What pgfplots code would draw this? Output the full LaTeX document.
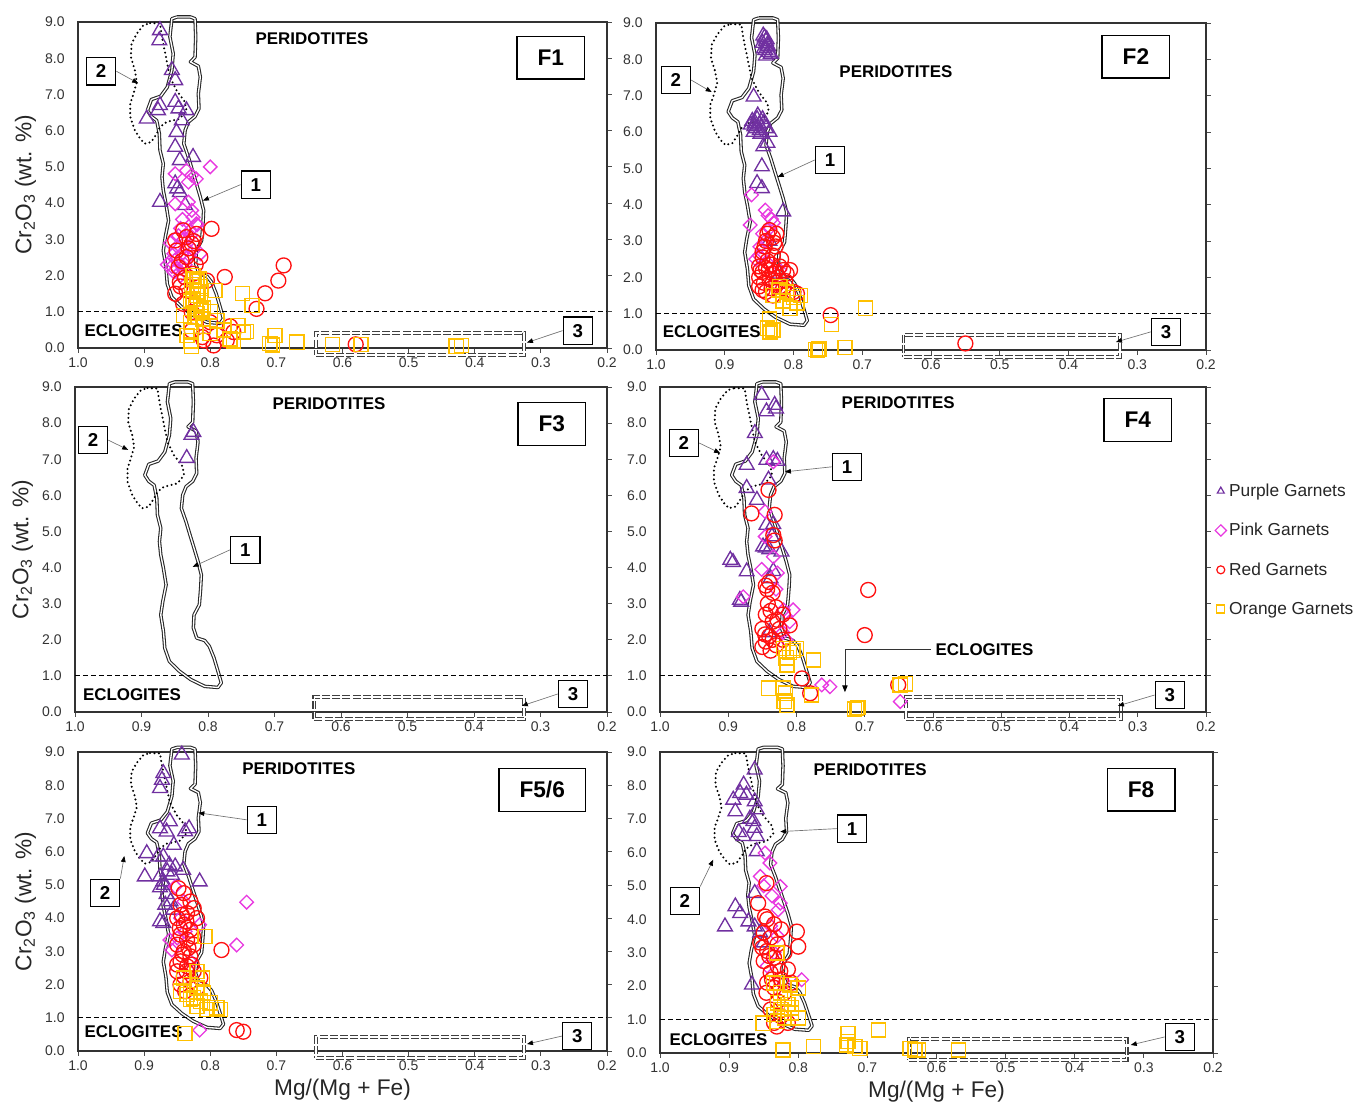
\documentclass[border=0pt]{standalone}
\usepackage{fontspec}
\setmainfont{Liberation Sans}
\usepackage{pgfplots}
\pgfplotsset{compat=1.18}
\usepackage{pgfplotstable}
\usetikzlibrary{arrows.meta}

\definecolor{cPur}{HTML}{7030A0}
\definecolor{cPink}{HTML}{E838E0}
\definecolor{cRed}{HTML}{FF1010}
\definecolor{cOra}{HTML}{FFC000}

% field outlines (same in every panel)
\pgfplotstableread[row sep=\\]{
x y\\
0.850 9.14\\ 0.858 9.09\\ 0.861 8.59\\ 0.856 8.13\\ 0.858 7.67\\ 0.865 7.20\\
0.875 6.95\\ 0.889 6.86\\ 0.895 6.56\\ 0.889 6.39\\ 0.881 6.28\\ 0.877 5.92\\
0.876 5.46\\ 0.871 5.09\\ 0.873 4.72\\ 0.871 4.35\\ 0.867 3.98\\ 0.863 3.52\\
0.868 3.06\\ 0.871 2.69\\ 0.867 2.23\\ 0.865 1.77\\ 0.858 1.40\\ 0.843 1.13\\
0.826 0.90\\ 0.805 0.71\\ 0.785 0.68\\ 0.780 0.81\\ 0.785 1.13\\ 0.791 1.50\\
0.798 1.82\\ 0.805 1.98\\ 0.817 2.05\\ 0.822 2.33\\ 0.821 2.69\\ 0.813 2.97\\
0.811 3.43\\ 0.810 3.80\\ 0.815 4.17\\ 0.821 4.54\\ 0.827 4.90\\ 0.833 5.27\\
0.840 5.64\\ 0.838 6.01\\ 0.833 6.24\\ 0.823 6.39\\ 0.817 6.61\\ 0.818 7.02\\
0.815 7.48\\ 0.818 7.78\\ 0.830 7.90\\ 0.823 8.03\\ 0.822 8.59\\ 0.823 9.09\\
0.830 9.14\\ 0.850 9.14\\
}\fieldA
\pgfplotstableread[row sep=\\]{
x y\\
0.891 8.97\\ 0.876 8.96\\ 0.873 8.59\\ 0.871 8.40\\ 0.861 7.48\\ 0.851 7.11\\
0.838 6.79\\ 0.836 6.56\\ 0.846 6.33\\ 0.866 6.24\\ 0.876 6.10\\ 0.881 5.92\\
0.889 5.69\\ 0.899 5.64\\ 0.906 5.78\\ 0.914 6.01\\ 0.921 6.38\\ 0.921 6.75\\
0.916 7.02\\ 0.911 7.34\\ 0.914 7.67\\ 0.920 8.03\\ 0.919 8.40\\ 0.911 8.68\\
0.901 8.91\\ 0.891 8.97\\
}\fieldB
\pgfplotstableread[row sep=\\]{
x y\\
0.640 -0.20\\ 0.325 -0.20\\ 0.325 0.42\\ 0.640 0.42\\ 0.640 -0.20\\
}\fieldC

\pgfplotsset{
  panel/.style={scale only axis, anchor=north west, x dir=reverse,
    xmin=0.2, xmax=1.0, ymin=0, ymax=9, clip=false,
    axis line style={draw=black!80, line width=0.9pt},
    xtick={0.2,0.3,0.4,0.5,0.6,0.7,0.8,0.9,1.0}, ytick={0,1,2,3,4,5,6,7,8,9},
    xtick pos=bottom, ytick pos=right, yticklabel pos=left,
    tick align=outside, major tick length=3.5pt,
    tick style={draw=black!70, line width=0.6pt},
    tick label style={font=\fontsize{10.5}{12}\selectfont, text=black!80},
    xticklabel style={/pgf/number format/fixed, /pgf/number format/fixed zerofill, /pgf/number format/precision=1},
    yticklabel style={/pgf/number format/fixed, /pgf/number format/fixed zerofill, /pgf/number format/precision=1, xshift=-3pt},
    /pgf/number format/assume math mode=true,
    label style={font=\fontsize{17}{19}\selectfont, text=black!85},
  },
  pur/.style={only marks, color=cPur, mark=triangle, mark size=6.4pt, line width=1pt},
  pnk/.style={only marks, color=cPink, mark=square, mark options={rotate=45}, mark size=3.6pt, line width=1pt},
  rd/.style={only marks, color=cRed, mark=o, mark size=5.6pt, line width=1pt},
  ora/.style={only marks, color=cOra, mark=square, mark size=5.3pt, line width=1.05pt},
  field1/.style={draw=black!85, double=white, double distance=1.0pt, line width=0.8pt, line join=round, mark=none, forget plot},
  field2/.style={draw=black, line width=1.7pt, dash pattern=on 0pt off 3.3pt, line cap=round, mark=none, forget plot},
  field3/.style={draw=black!75, double=white, double distance=1.3pt, line width=0.8pt, dash pattern=on 6pt off 1.6pt, mark=none, forget plot},
  eline/.style={draw=black, line width=0.8pt, dash pattern=on 3.5pt off 2.5pt, mark=none, forget plot},
}
\tikzset{
  numbox/.style={draw=black, line width=0.9pt, fill=white, font=\fontsize{14}{14}\selectfont\bfseries, minimum width=22pt, minimum height=20.5pt, inner sep=0pt},
  panbox/.style={draw=black, line width=1pt, fill=white, font=\fontsize{17}{17}\selectfont\bfseries, minimum height=32pt, inner xsep=15.5pt},
  fieldlbl/.style={font=\fontsize{12.7}{13}\selectfont\bfseries},
  arr/.style={draw=black!55, line width=0.5pt, -{Triangle[color=black, length=4.5pt, width=3.5pt]}},
}
\newcommand\fields{%
  \addplot[field1] table {\fieldA};
  \addplot[field2] table {\fieldB};
  \addplot[field3] table {\fieldC};
  \addplot[eline] coordinates {(1.0,1) (0.2,1)};
}

\begin{document}
\begin{tikzpicture}
\useasboundingbox (0,0) rectangle (1019.25pt,-828pt);

% ---------------- F1
\begin{axis}[panel, at={(58.5pt,-16.5pt)}, width=396.75pt, height=244.5pt,
  ylabel={Cr\textsubscript{2}O\textsubscript{3} (wt. \%)}]
\fields
\addplot[pur] coordinates {(0.876,8.77) (0.877,8.49) (0.858,7.67) (0.853,7.39) (0.876,6.70) (0.879,6.56)
  (0.853,6.79) (0.848,6.61) (0.836,6.56) (0.896,6.33) (0.843,6.28) (0.851,5.96) (0.853,5.55) (0.846,5.18)
  (0.826,5.27) (0.853,4.54) (0.846,4.30) (0.876,4.03) (0.838,3.94) (0.850,4.40)};
\addplot[pnk] coordinates {(0.800,5.00) (0.853,4.81) (0.836,4.90) (0.828,4.77) (0.821,4.67) (0.833,4.58)
  (0.853,3.98) (0.833,4.03) (0.826,3.61) (0.821,3.43) (0.830,3.25) (0.845,3.30) (0.840,3.00) (0.850,2.80)
  (0.855,2.60) (0.860,2.40) (0.850,2.20) (0.845,2.00) (0.835,2.50) (0.825,2.70) (0.830,3.10) (0.820,3.40)
  (0.860,2.90) (0.865,2.30) (0.855,2.10) (0.815,2.60) (0.838,2.30) (0.842,3.55) (0.828,3.80)
  (0.843,2.60) (0.852,2.45) (0.848,3.10) (0.836,2.75) (0.858,2.25) (0.840,2.15)};
\addplot[rd] coordinates {(0.798,3.29) (0.841,3.25) (0.853,2.97) (0.836,3.06) (0.821,3.15) (0.828,2.88)
  (0.851,2.69) (0.836,2.51) (0.815,2.51) (0.848,2.23) (0.846,1.82) (0.805,1.86) (0.778,1.96) (0.836,1.59)
  (0.853,1.50) (0.689,2.28) (0.697,1.86) (0.717,1.51) (0.730,1.08) (0.841,1.22) (0.828,0.99) (0.800,0.71)
  (0.790,0.35) (0.775,0.21) (0.765,0.44) (0.828,0.48) (0.810,0.21) (0.795,0.07) (0.580,0.10) (0.770,0.60)
  (0.812,0.30) (0.826,2.05) (0.822,2.30) (0.833,2.75) (0.843,2.40) (0.825,2.95) (0.838,1.95) (0.845,1.70)};
\addplot[ora] coordinates {(0.826,2.00) (0.820,1.85) (0.815,1.70) (0.825,1.60) (0.820,1.45) (0.830,1.30)
  (0.815,1.25) (0.822,1.15) (0.810,1.10) (0.820,0.95) (0.828,1.75) (0.816,1.90) (0.793,1.59) (0.751,1.50)
  (0.737,1.17) (0.758,0.62) (0.750,0.44) (0.765,0.20) (0.702,0.35) (0.710,0.12) (0.706,0.08) (0.669,0.16)
  (0.828,0.48) (0.830,0.20) (0.828,0.05) (0.835,0.35) (0.790,0.75) (0.810,0.60) (0.800,0.40) (0.770,0.25)
  (0.780,0.50) (0.745,0.45) (0.615,0.10) (0.572,0.10) (0.428,0.05) (0.420,0.07) (0.840,0.90) (0.800,1.00)
  (0.824,1.90) (0.818,1.55) (0.826,1.35) (0.814,1.05) (0.823,0.85) (0.812,0.80) (0.830,0.70)};
\node[fieldlbl] at (axis cs:0.646,8.55) {PERIDOTITES};
\node[fieldlbl, anchor=west] at (axis cs:0.997,0.48) {ECLOGITES};
\node[panbox] at (axis cs:0.285,8.02) {F1};
\node[numbox] (b2) at (axis cs:0.965,7.64) {2};
\draw[arr] (b2.east) -- (axis cs:0.909,7.31);
\node[numbox] (b1) at (axis cs:0.731,4.51) {1};
\draw[arr] (b1.west) -- (axis cs:0.811,4.07);
\node[numbox] (b3) at (axis cs:0.244,0.48) {3};
\draw[arr] (b3.west) -- (axis cs:0.321,0.15);
\end{axis}

% ---------------- F2
\begin{axis}[panel, at={(492pt,-17.25pt)}, width=412.5pt, height=245.25pt]
\fields
\addplot[pur] coordinates {(0.842,8.60) (0.840,8.50) (0.838,8.40) (0.843,8.30) (0.836,8.20) (0.840,8.10)
  (0.833,8.15) (0.845,8.45) (0.844,8.65) (0.839,8.55) (0.841,8.25) (0.837,8.35) (0.858,6.97) (0.860,6.30)
  (0.855,6.10) (0.850,6.20) (0.845,6.35) (0.858,6.00) (0.840,6.10) (0.852,6.45) (0.848,5.95) (0.862,6.20)
  (0.835,6.00) (0.856,6.25) (0.853,6.35) (0.849,6.05) (0.857,6.15) (0.843,6.25) (0.844,5.60) (0.838,5.70)
  (0.846,5.05) (0.853,4.59) (0.846,4.45) (0.815,3.81) (0.835,3.00) (0.820,2.10)};
\addplot[pnk] coordinates {(0.861,4.27) (0.841,3.85) (0.837,3.70) (0.832,3.60) (0.829,3.50) (0.863,3.44)
  (0.849,2.84) (0.841,3.00) (0.845,3.20) (0.850,2.60) (0.838,2.40) (0.820,2.20) (0.835,3.35) (0.855,2.50)};
\addplot[rd] coordinates {(0.835,3.30) (0.830,3.10) (0.840,3.00) (0.826,2.85) (0.845,2.70) (0.830,2.60)
  (0.838,2.45) (0.850,2.30) (0.820,2.30) (0.845,2.15) (0.830,2.10) (0.810,2.10) (0.850,2.00) (0.835,1.95)
  (0.825,1.85) (0.805,2.20) (0.815,1.70) (0.850,1.75) (0.840,1.60) (0.800,1.60) (0.795,1.55) (0.830,1.50)
  (0.825,3.20) (0.842,2.85) (0.818,2.50) (0.848,2.20) (0.836,2.20) (0.822,2.00) (0.812,1.90) (0.838,3.20)
  (0.828,2.95) (0.845,2.55) (0.832,2.35) (0.840,2.25) (0.826,2.15) (0.815,2.20) (0.843,1.85) (0.820,1.75)
  (0.832,1.70) (0.808,1.55) (0.845,1.65) (0.746,0.96) (0.550,0.18)};
\addplot[ora] coordinates {(0.820,1.75) (0.810,1.60) (0.830,1.50) (0.800,1.45) (0.815,1.35) (0.795,1.30)
  (0.805,1.15) (0.822,1.65) (0.790,1.50) (0.835,0.85) (0.838,0.60) (0.834,0.50) (0.830,0.55) (0.765,0.00)
  (0.768,0.02) (0.763,0.03) (0.725,0.07) (0.745,0.70) (0.695,1.15)};
\node[fieldlbl] at (axis cs:0.651,7.65) {PERIDOTITES};
\node[fieldlbl, anchor=west] at (axis cs:0.997,0.50) {ECLOGITES};
\node[panbox] at (axis cs:0.302,8.07) {F2};
\node[numbox] (b2) at (axis cs:0.971,7.43) {2};
\draw[arr] (b2.east) -- (axis cs:0.919,7.10);
\node[numbox] (b1) at (axis cs:0.747,5.23) {1};
\draw[arr] (b1.west) -- (axis cs:0.823,4.76);
\node[numbox] (b3) at (axis cs:0.258,0.50) {3};
\draw[arr] (b3.west) -- (axis cs:0.331,0.22);
\end{axis}

% ---------------- F3
\begin{axis}[panel, at={(56.25pt,-290.25pt)}, width=399pt, height=243.75pt,
  ylabel={Cr\textsubscript{2}O\textsubscript{3} (wt. \%)}]
\fields
\addplot[pur] coordinates {(0.825,7.67) (0.822,7.75) (0.832,7.03)};
\node[fieldlbl] at (axis cs:0.618,8.53) {PERIDOTITES};
\node[fieldlbl, anchor=west] at (axis cs:0.995,0.47) {ECLOGITES};
\node[panbox] at (axis cs:0.283,7.98) {F3};
\node[numbox] (b2) at (axis cs:0.973,7.53) {2};
\draw[arr] (b2.east) -- (axis cs:0.920,7.26);
\node[numbox] (b1) at (axis cs:0.744,4.49) {1};
\draw[arr] (b1.west) -- (axis cs:0.823,4.02);
\node[numbox] (b3) at (axis cs:0.251,0.50) {3};
\draw[arr] (b3.west) -- (axis cs:0.328,0.17);
\end{axis}

% ---------------- F4
\begin{axis}[panel, at={(495pt,-290.25pt)}, width=409.5pt, height=243.75pt,
  legend style={at={(axis cs:0.187,6.40)}, anchor=north west, draw=none, fill=none,
    font=\fontsize{13}{15}\selectfont, row sep=14.6pt, inner sep=0pt,
    nodes={text=black!85}},
  legend cell align=left,
  legend image code/.code={\draw[#1, mark size=3pt, line width=0.9pt] plot coordinates {(0pt,0pt)};}]
\fields
\addplot[pur] coordinates {(0.851,8.78) (0.832,8.50) (0.830,8.40) (0.844,8.32) (0.861,7.72) (0.873,6.84)
  (0.844,6.98) (0.834,7.00) (0.828,6.95) (0.873,6.20) (0.858,5.87) (0.841,6.43) (0.844,5.18) (0.834,5.20)
  (0.836,4.86) (0.849,4.58) (0.845,4.55) (0.840,4.50) (0.822,4.44) (0.897,4.21) (0.893,4.15) (0.873,3.89)
  (0.834,3.90) (0.883,3.10) (0.881,3.05) (0.838,3.70) (0.840,2.20)};
\addplot[pnk] coordinates {(0.834,6.93) (0.846,5.55) (0.846,4.86) (0.834,4.30) (0.851,3.95) (0.828,3.85)
  (0.878,3.19) (0.819,2.83) (0.805,2.83) (0.820,2.20) (0.810,2.50) (0.815,2.00) (0.763,0.75) (0.751,0.70)
  (0.648,0.29) (0.830,3.40)};
\addplot[rd] coordinates {(0.841,6.15) (0.866,5.50) (0.832,5.46) (0.834,4.90) (0.832,4.75) (0.840,3.60)
  (0.845,3.50) (0.835,3.30) (0.842,3.00) (0.830,2.90) (0.845,2.70) (0.820,2.70) (0.835,2.50) (0.850,2.30)
  (0.825,2.30) (0.840,2.10) (0.845,1.95) (0.830,1.85) (0.850,1.80) (0.820,2.00) (0.810,2.40) (0.838,1.70)
  (0.843,3.40) (0.838,2.80) (0.828,2.55) (0.846,2.15) (0.835,2.00)
  (0.695,3.38) (0.700,2.13) (0.792,0.93) (0.780,0.52) (0.651,0.75)};
\addplot[ora] coordinates {(0.819,1.76) (0.800,1.76) (0.775,1.44) (0.814,1.30) (0.810,1.65) (0.815,1.50)
  (0.805,1.70) (0.841,0.66) (0.819,0.66) (0.816,0.52) (0.814,0.19) (0.818,0.30) (0.778,0.47) (0.712,0.10)
  (0.715,0.08) (0.710,0.12) (0.648,0.75) (0.640,0.78)};
\legend{Purple Garnets, Pink Garnets, Red Garnets, Orange Garnets}
\node[fieldlbl] at (axis cs:0.651,8.56) {PERIDOTITES};
\node[fieldlbl, anchor=west] (ec) at (axis cs:0.603,1.72) {ECLOGITES};
\draw[draw=black!80, line width=0.6pt, -{Triangle[color=black, length=5pt, width=4pt]}] (ec.west) -| (axis cs:0.729,0.55);
\node[panbox] at (axis cs:0.300,8.09) {F4};
\node[numbox] (b2) at (axis cs:0.965,7.45) {2};
\draw[arr] (b2.east) -- (axis cs:0.912,7.17);
\node[numbox] (b1) at (axis cs:0.726,6.79) {1};
\draw[arr] (b1.west) -- (axis cs:0.817,6.65);
\node[numbox] (b3) at (axis cs:0.253,0.47) {3};
\draw[arr] (b3.west) -- (axis cs:0.329,0.17);
\end{axis}

% ---------------- F5/6
\begin{axis}[panel, at={(58.5pt,-564pt)}, width=396.75pt, height=224.25pt,
  ylabel={Cr\textsubscript{2}O\textsubscript{3} (wt. \%)}, xlabel={Mg/(Mg + Fe)}]
\fields
\addplot[pur] coordinates {(0.843,8.92) (0.871,8.36) (0.873,8.16) (0.876,7.91) (0.861,6.91) (0.876,6.70)
  (0.866,6.60) (0.838,6.61) (0.832,6.70) (0.896,5.95) (0.879,5.85) (0.871,5.85) (0.853,5.55) (0.841,5.45)
  (0.899,5.25) (0.876,5.25) (0.871,5.10) (0.816,5.10) (0.876,4.92) (0.866,4.72) (0.860,4.50) (0.876,3.90)
  (0.871,3.85) (0.856,4.25) (0.862,5.60) (0.858,5.30) (0.868,4.40) (0.855,6.20) (0.865,5.40) (0.870,5.00)};
\addplot[pnk] coordinates {(0.745,4.48) (0.760,3.19) (0.816,0.63) (0.853,4.95) (0.861,3.34) (0.858,3.04)
  (0.816,3.80) (0.840,4.50) (0.845,4.00) (0.838,3.60) (0.850,3.40) (0.830,2.70)};
\addplot[rd] coordinates {(0.848,4.90) (0.840,4.75) (0.830,4.50) (0.845,4.40) (0.825,4.30) (0.835,4.15)
  (0.850,4.00) (0.820,4.00) (0.840,3.80) (0.830,3.65) (0.845,3.50) (0.835,3.35) (0.850,3.20) (0.825,3.20)
  (0.840,3.00) (0.830,2.85) (0.845,2.70) (0.835,2.55) (0.850,2.40) (0.825,2.40) (0.840,2.25) (0.830,2.10)
  (0.845,2.00) (0.820,1.90) (0.838,1.80) (0.828,2.60) (0.815,2.20) (0.843,4.10) (0.836,3.90) (0.846,3.70)
  (0.833,3.10) (0.842,2.90) (0.850,2.60) (0.836,2.40) (0.826,3.45)
  (0.783,3.04) (0.760,0.63) (0.750,0.58)};
\addplot[ora] coordinates {(0.808,3.44) (0.840,2.20) (0.830,2.00) (0.820,1.90) (0.845,1.80) (0.835,1.70)
  (0.810,1.75) (0.825,1.60) (0.815,1.50) (0.800,1.45) (0.820,1.35) (0.805,1.25) (0.790,1.30) (0.785,1.25)
  (0.830,1.55) (0.812,2.20) (0.820,2.40) (0.838,0.53)};
\node[fieldlbl] at (axis cs:0.666,8.49) {PERIDOTITES};
\node[fieldlbl, anchor=west] at (axis cs:0.997,0.57) {ECLOGITES};
\node[panbox] at (axis cs:0.298,7.86) {F5/6};
\node[numbox] (b1) at (axis cs:0.722,6.96) {1};
\draw[arr] (b1.west) -- (axis cs:0.818,7.17);
\node[numbox] (b2) at (axis cs:0.959,4.76) {2};
\draw[arr] (b2.north east) -- (axis cs:0.930,5.87);
\node[numbox] (b3) at (axis cs:0.245,0.45) {3};
\draw[arr] (b3.west) -- (axis cs:0.321,0.21);
\end{axis}

% ---------------- F8
\begin{axis}[panel, at={(495pt,-564pt)}, width=414.75pt, height=225.75pt,
  xlabel={Mg/(Mg + Fe)}]
\fields
\addplot[pur] coordinates {(0.863,8.47) (0.879,8.02) (0.884,7.77) (0.894,7.57) (0.875,7.72) (0.863,7.52)
  (0.860,7.28) (0.891,7.22) (0.865,6.93) (0.863,6.73) (0.879,6.48) (0.860,6.48) (0.860,6.03) (0.863,4.78)
  (0.891,4.38) (0.884,4.18) (0.906,3.78) (0.872,3.93) (0.863,3.78) (0.867,2.04) (0.855,3.60) (0.850,3.30)
  (0.870,7.00) (0.886,6.60)};
\addplot[pnk] coordinates {(0.848,5.98) (0.841,5.68) (0.855,5.28) (0.826,4.48) (0.829,4.28) (0.826,4.98)
  (0.795,2.19) (0.840,3.80) (0.835,3.00) (0.845,2.60) (0.830,3.50) (0.820,2.10) (0.850,5.00) (0.838,4.70)};
\addplot[rd] coordinates {(0.846,5.08) (0.858,4.48) (0.848,4.08) (0.802,3.63) (0.800,3.18) (0.845,4.00)
  (0.835,3.85) (0.850,3.60) (0.825,3.70) (0.840,3.45) (0.855,3.30) (0.830,3.25) (0.845,3.05) (0.820,3.00)
  (0.835,2.85) (0.850,2.75) (0.830,2.60) (0.815,2.50) (0.840,2.40) (0.825,2.20) (0.845,2.10) (0.835,1.95)
  (0.810,2.10) (0.820,1.80) (0.830,1.55) (0.840,1.30) (0.825,1.10) (0.815,0.90) (0.835,0.90) (0.831,0.79)
  (0.852,3.15) (0.842,2.90) (0.826,2.45) (0.838,2.20) (0.846,1.80)};
\addplot[ora] coordinates {(0.831,2.99) (0.836,2.09) (0.831,2.10) (0.812,2.04) (0.800,1.94) (0.826,1.80)
  (0.820,1.65) (0.830,1.50) (0.815,1.45) (0.825,1.30) (0.810,1.20) (0.835,1.15) (0.820,1.05) (0.830,0.95)
  (0.810,1.35) (0.800,1.05) (0.851,0.89) (0.822,0.09) (0.778,0.19) (0.728,0.59) (0.728,0.34) (0.730,0.24)
  (0.718,0.19) (0.711,0.14) (0.684,0.69) (0.638,0.14) (0.631,0.09) (0.626,0.09) (0.568,0.09)};
\node[fieldlbl] at (axis cs:0.696,8.47) {PERIDOTITES};
\node[fieldlbl, anchor=west] at (axis cs:0.993,0.39) {ECLOGITES};
\node[panbox] at (axis cs:0.304,7.87) {F8};
\node[numbox] (b1) at (axis cs:0.722,6.71) {1};
\draw[arr] (b1.west) -- (axis cs:0.826,6.62);
\node[numbox] (b2) at (axis cs:0.964,4.55) {2};
\draw[arr] (b2.north east) -- (axis cs:0.923,5.78);
\node[numbox] (b3) at (axis cs:0.248,0.48) {3};
\draw[arr] (b3.west) -- (axis cs:0.319,0.24);
\end{axis}
\end{tikzpicture}
\end{document}
